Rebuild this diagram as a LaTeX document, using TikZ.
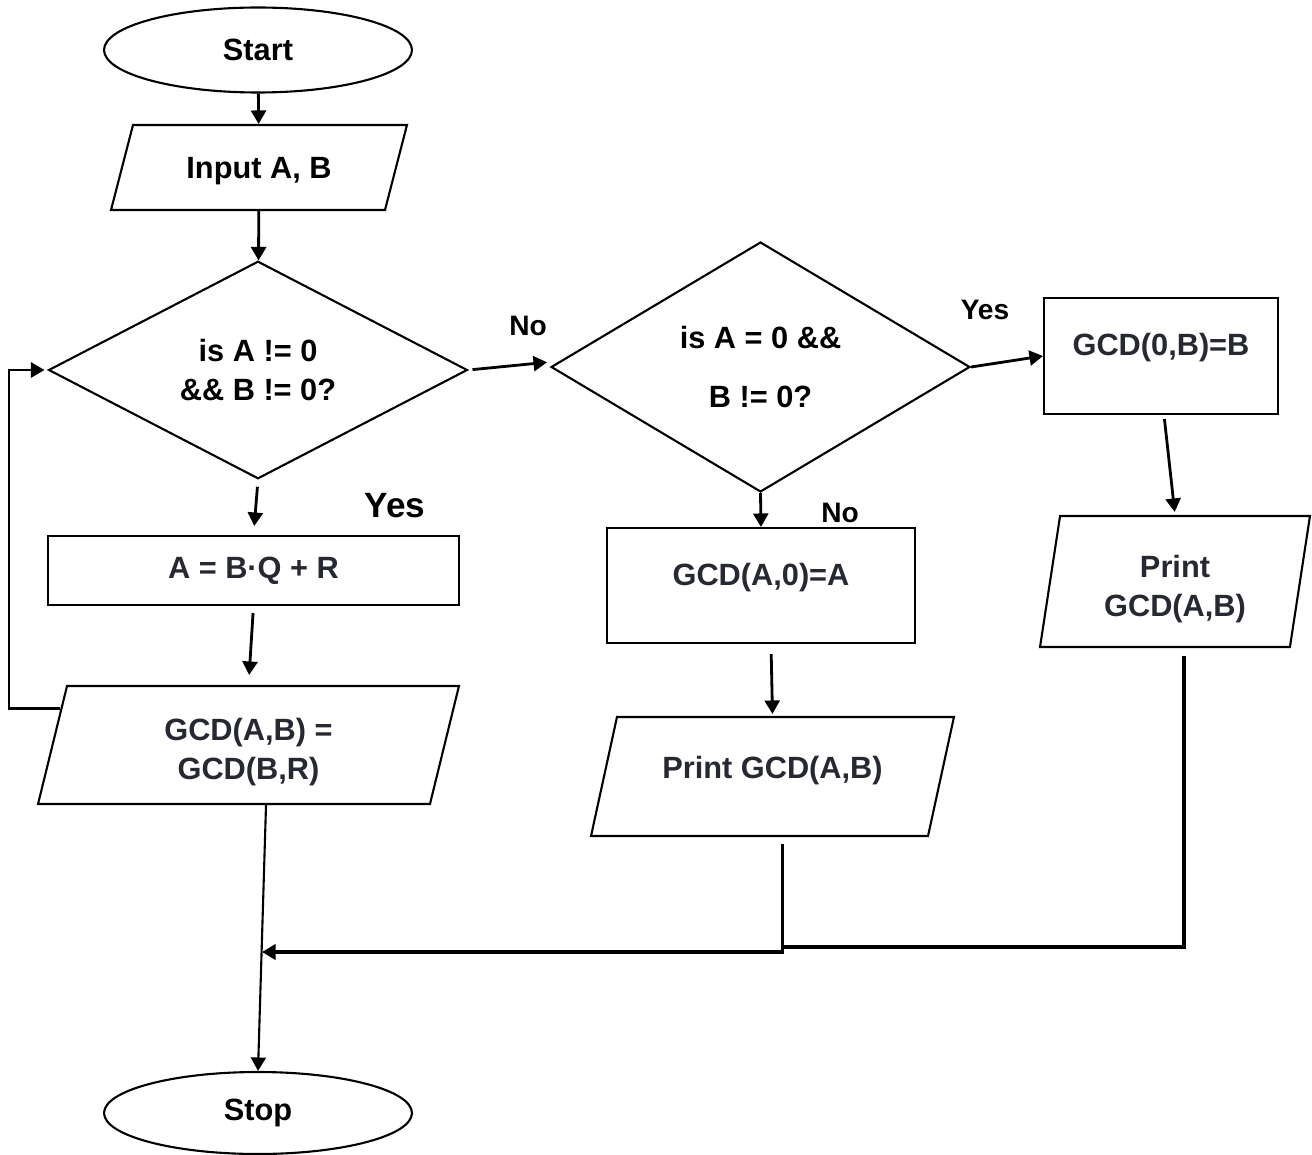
\documentclass[tikz,border=0pt]{standalone}
\usepackage{fontspec}
\setmainfont{Liberation Sans}
\usetikzlibrary{shapes.geometric,arrows.meta}
\definecolor{gcdgray}{RGB}{38,40,50}

\tikzset{
    every node/.style={font=\bfseries\fontsize{17.5}{22}\selectfont, inner sep=0pt},
    outline/.style={draw, line width=1.2pt},
    terminal/.style={outline, ellipse},
    io/.style={outline, trapezium, trapezium stretches body},
    decision/.style={outline, diamond, align=center},
    process/.style={outline, rectangle},
    raised/.style={text height=0.5cm, text depth=0.5cm},
    arrow/.style={line width=1.6pt, -{Triangle[length=0.27cm,width=0.3cm]}},
    line/.style={line width=1.6pt},
    small/.style={font=\bfseries\fontsize{16}{19}\selectfont},
    big/.style={font=\bfseries\fontsize{20}{24}\selectfont}
}

\begin{document}
\begin{tikzpicture}[x=0.02cm, y=-0.02cm]
            \useasboundingbox (0,0) rectangle (1312,1155);
            \node[terminal, minimum width=6.16cm, minimum height=1.7cm] (start) at (258,50) {Start};
            \node[io, trapezium left angle=75.5, trapezium right angle=104.5, minimum width=5.92cm, text height=1.08cm, text depth=0.62cm] (input) at (259,167.5) {Input A, B};
            \node[decision, minimum width=8.38cm, minimum height=4.34cm] (isnz) at (258,370) {is A != 0\\\&\& B != 0?};
            \node[process, minimum width=8.22cm, minimum height=1.38cm, text=gcdgray] (divide) at (253.5,570.5) {A = B·Q + R};
            \node[io, trapezium left angle=76.2, trapezium right angle=103.8, minimum width=8.42cm, text height=1.87cm, text depth=0.49cm, text=gcdgray, align=center] (swap) at (248.5,745) {GCD(A,B) =\\GCD(B,R)};
            \node[terminal, minimum width=6.16cm, minimum height=1.64cm] (stop) at (258,1113) {Stop};
            \node[decision, minimum width=8.38cm, minimum height=5cm] (isaz) at (760.5,367) {is A = 0 \&\&\\[0.42cm]B != 0?};
            \node[process, raised, minimum width=4.68cm, minimum height=2.32cm, text=gcdgray] (gcdzb) at (1161,356) {GCD(0,B)=B};
            \node[process, raised, minimum width=6.16cm, minimum height=2.3cm, text=gcdgray] (gcdaz) at (761,585.5) {GCD(A,0)=A};
            \node[io, trapezium left angle=77.7, trapezium right angle=102.3, minimum width=7.26cm, text height=1.22cm, text depth=1.16cm, text=gcdgray] (printa) at (772.5,776.5) {Print GCD(A,B)};
            \node[io, trapezium left angle=81.3, trapezium right angle=98.7, minimum width=5.4cm, text height=2.01cm, text depth=0.61cm, text=gcdgray, align=center] (printb) at (1175,581.5) {Print\\GCD(A,B)};
            \node[small] (no1) at (528,326) {No};
            \node[big] (yes1) at (395,506) {Yes};
            \node[small] (yes2) at (985,310) {Yes};
            \node[small] (no2) at (840,513) {No};
            \coordinate (loopx) at (9,0);
            \coordinate (merge) at (262,952);
            \coordinate (join) at (783,947);
            \draw[arrow] (start) -- (input);
            \draw[arrow] (input) -- (isnz);
            \draw[arrow, shorten <=0.14cm, shorten >=0.18cm] (isnz.south) -- (divide.north);
            \draw[arrow, shorten <=0.14cm, shorten >=0.2cm] (divide.south) -- (swap.north);
            \draw[arrow, line width=1.2pt] ([xshift=0.35cm]swap.south) -- (stop.north);
            \draw[arrow, shorten >=0.06cm] (swap.169) -- (swap.169 -| loopx) |- (isnz.west);
            \draw[arrow, shorten <=0.08cm, shorten >=0.06cm] (isnz.east) -- ([yshift=0.1cm]isaz.west);
            \draw[arrow] (isaz.east) -- (gcdzb.west);
            \draw[arrow] (isaz.south) -- (gcdaz.north);
            \draw[arrow, shorten <=0.08cm, shorten >=0.06cm] ([xshift=0.06cm]gcdzb.south) -- (printb.north);
            \draw[arrow, shorten <=0.2cm, shorten >=0.04cm] ([xshift=0.2cm]gcdaz.south) -- (printa.north);
            \draw[arrow, line width=2pt, shorten <=0.14cm] ([xshift=0.2cm]printa.south) |- (merge);
            \draw[line, line width=2pt, shorten <=0.16cm] ([xshift=0.18cm]printb.south) |- (join);
        \end{tikzpicture}
\end{document}
